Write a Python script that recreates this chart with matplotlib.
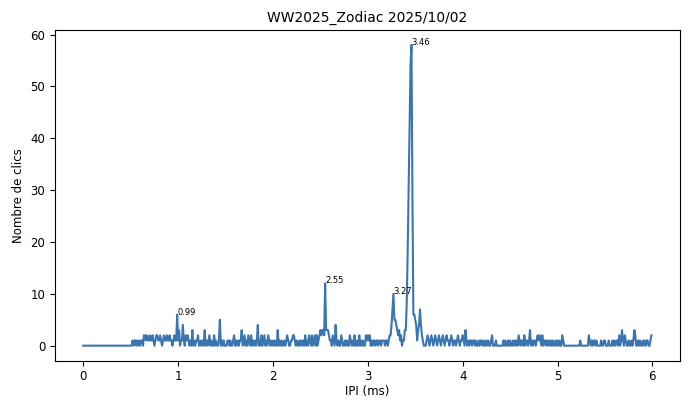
import numpy as np
import matplotlib
matplotlib.use("Agg")
import matplotlib.pyplot as plt

# Histogram of inter-pulse intervals, 0.01 ms bins from 0 to 5.99 ms
bin_width = 0.01
clicks = [
    # 0.0 - 0.49
    0, 0, 0, 0, 0, 0, 0, 0, 0, 0,
    0, 0, 0, 0, 0, 0, 0, 0, 0, 0,
    0, 0, 0, 0, 0, 0, 0, 0, 0, 0,
    0, 0, 0, 0, 0, 0, 0, 0, 0, 0,
    0, 0, 0, 0, 0, 0, 0, 0, 0, 0,
    # 0.5 - 0.99
    0, 0, 1, 0, 1, 1, 0, 1, 0, 1,
    0, 1, 1, 0, 2, 2, 1, 2, 1, 1,
    2, 1, 1, 2, 1, 0, 1, 2, 2, 1,
    1, 2, 1, 0, 1, 2, 1, 1, 2, 1,
    1, 2, 1, 1, 0, 1, 2, 1, 1, 6,
    # 1.0 - 1.49
    1, 3, 0, 1, 1, 4, 1, 0, 2, 1,
    2, 1, 0, 1, 0, 3, 0, 1, 0, 1,
    1, 2, 0, 0, 1, 0, 1, 0, 3, 0,
    1, 0, 1, 2, 0, 1, 0, 0, 2, 0,
    1, 0, 0, 1, 5, 0, 1, 0, 1, 0,
    # 1.5 - 1.99
    0, 0, 1, 1, 0, 1, 0, 0, 1, 2,
    0, 1, 0, 1, 0, 1, 1, 3, 0, 1,
    2, 0, 1, 0, 2, 1, 0, 2, 0, 1,
    0, 1, 0, 1, 4, 0, 1, 0, 2, 0,
    1, 2, 0, 1, 0, 2, 1, 0, 1, 0,
    # 2.0 - 2.49
    1, 0, 1, 0, 0, 3, 0, 1, 0, 1,
    0, 0, 1, 0, 1, 2, 1, 0, 0, 1,
    1, 2, 2, 1, 0, 1, 0, 0, 1, 0,
    1, 0, 1, 0, 2, 0, 1, 0, 2, 1,
    0, 2, 0, 1, 2, 0, 2, 0, 1, 2,
    # 2.5 - 2.99
    3, 2, 3, 3, 2, 12, 3, 3, 3, 2,
    1, 1, 0, 2, 1, 0, 4, 1, 0, 1,
    0, 0, 2, 1, 0, 0, 1, 0, 1, 0,
    0, 2, 1, 0, 1, 0, 2, 0, 0, 1,
    0, 2, 0, 1, 0, 1, 0, 0, 2, 1,
    # 3.0 - 3.49
    2, 1, 2, 0, 1, 0, 1, 1, 0, 1,
    1, 0, 1, 1, 0, 1, 1, 1, 0, 1,
    1, 0, 1, 2, 2, 4, 7, 10, 5, 5,
    4, 3, 2, 3, 1, 2, 0, 1, 1, 3,
    3, 8, 18, 30, 42, 54, 58, 30, 6, 6,
    # 3.5 - 3.99
    5, 4, 1, 3, 4, 7, 4, 2, 1, 0,
    0, 0, 1, 2, 1, 0, 1, 2, 1, 0,
    1, 2, 1, 0, 1, 2, 1, 0, 1, 2,
    1, 0, 1, 2, 1, 1, 0, 1, 2, 1,
    0, 1, 1, 0, 1, 2, 1, 0, 1, 1,
    # 4.0 - 4.49
    2, 1, 0, 3, 1, 0, 1, 0, 1, 1,
    0, 1, 1, 0, 1, 0, 0, 1, 0, 1,
    1, 0, 1, 0, 0, 1, 0, 1, 0, 0,
    1, 2, 0, 0, 0, 1, 0, 0, 0, 0,
    0, 0, 0, 1, 0, 1, 0, 0, 1, 0,
    # 4.5 - 4.99
    1, 0, 0, 1, 0, 1, 0, 1, 0, 2,
    1, 0, 1, 1, 0, 2, 0, 1, 1, 0,
    1, 3, 0, 1, 0, 1, 1, 0, 1, 2,
    1, 2, 1, 0, 2, 0, 1, 1, 0, 1,
    0, 1, 0, 1, 0, 1, 0, 0, 1, 0,
    # 5.0 - 5.49
    1, 0, 1, 0, 0, 2, 1, 0, 0, 0,
    0, 0, 0, 0, 0, 0, 0, 0, 0, 0,
    0, 0, 0, 0, 1, 0, 0, 0, 0, 0,
    0, 0, 0, 2, 1, 0, 1, 0, 1, 1,
    0, 1, 0, 0, 0, 0, 1, 0, 0, 1,
    # 5.5 - 5.99
    1, 0, 0, 0, 1, 0, 0, 0, 1, 0,
    1, 0, 1, 1, 0, 2, 0, 1, 3, 1,
    0, 2, 1, 0, 0, 1, 0, 0, 1, 0,
    1, 3, 2, 0, 0, 1, 0, 1, 0, 0,
    1, 0, 1, 0, 1, 1, 0, 0, 1, 2,
]

# Labelled peaks (IPI in ms)
peak_labels = [0.99, 2.55, 3.27, 3.46]

title = "WW2025_Zodiac 2025/10/02"
xlabel = "IPI (ms)"
ylabel = "Nombre de clics"

counts = np.array(clicks)
ipi = np.arange(len(counts)) * bin_width

fig = plt.figure(figsize=(6.86, 3.99), dpi=100)
ax = fig.add_axes([0.080, 0.096, 0.911, 0.829])
ax.plot(ipi, counts, color="#3a75b0", linewidth=1.5)

for p in peak_labels:
    idx = int(round(p / bin_width))
    ax.text(ipi[idx], counts[idx], f"{p:.2f}", fontsize=6)

ax.set_title(title, fontsize=10)
ax.set_xlabel(xlabel, fontsize=8.5, labelpad=1)
ax.set_ylabel(ylabel, fontsize=8.5)
ax.tick_params(labelsize=8.5)

fig.savefig("out.png", dpi=100)
